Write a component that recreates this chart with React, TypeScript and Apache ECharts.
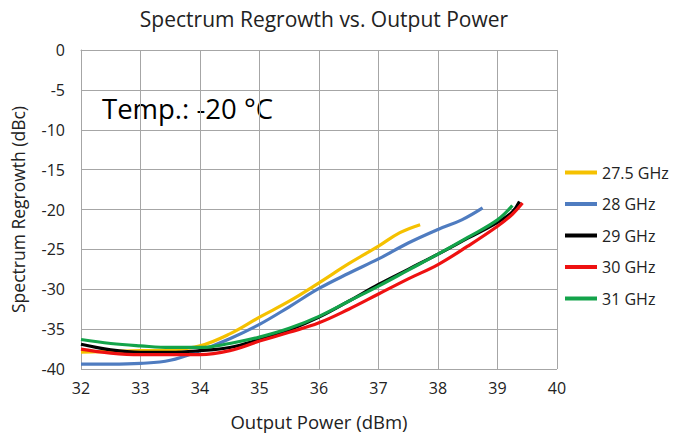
import React, { useEffect, useRef } from "react";
import * as echarts from "echarts";

const seriesNames = ["27.5 GHz", "28 GHz", "29 GHz", "30 GHz", "31 GHz"];
const seriesColors = ["#f5c100", "#4f7cc0", "#000000", "#ee1111", "#13a34a"];

const s275: [number, number][] = [
  [32, -37.9], [32.5, -37.8], [33, -37.7], [33.5, -37.6], [34, -37.1], [34.5, -35.6],
  [35, -33.5], [35.5, -31.5], [36, -29.2], [36.5, -26.8], [37, -24.6], [37.36, -22.9], [37.7, -21.9],
];
const s28: [number, number][] = [
  [32, -39.4], [32.5, -39.4], [33, -39.3], [33.5, -38.9], [34, -37.7], [34.5, -36.2],
  [35, -34.4], [35.5, -32.2], [36, -29.9], [36.5, -28.0], [37, -26.2], [37.5, -24.2],
  [38, -22.5], [38.4, -21.3], [38.75, -19.8],
];
const s29: [number, number][] = [
  [32, -36.9], [32.5, -37.6], [33, -37.9], [33.5, -37.9], [34, -37.7], [34.5, -37.3],
  [35, -36.3], [35.5, -35.1], [36, -33.5], [36.5, -31.5], [37, -29.4], [37.5, -27.5],
  [38, -25.6], [38.5, -23.6], [39, -21.6], [39.25, -20.3], [39.37, -19.0],
];
const s30: [number, number][] = [
  [32, -37.5], [32.5, -38.0], [33, -38.2], [33.5, -38.2], [34, -38.2], [34.5, -37.7],
  [35, -36.5], [35.5, -35.4], [36, -34.2], [36.5, -32.5], [37, -30.6], [37.5, -28.7],
  [38, -26.9], [38.5, -24.6], [39, -22.1], [39.25, -20.6], [39.42, -19.2],
];
const s31: [number, number][] = [
  [32, -36.3], [32.5, -36.8], [33, -37.1], [33.5, -37.3], [34, -37.3], [34.5, -36.8],
  [35, -36.0], [35.5, -34.9], [36, -33.4], [36.5, -31.5], [37, -29.6], [37.5, -27.6],
  [38, -25.6], [38.5, -23.5], [39, -21.3], [39.25, -19.5],
];
const seriesData = [s275, s28, s29, s30, s31];

const xTicks = { min: 32, max: 40, interval: 1 };
const yTicks = { min: -40, max: 0, interval: 5 };

const titleText = "Spectrum Regrowth vs. Output Power";
const xName = "Output Power (dBm)";
const yName = "Spectrum Regrowth (dBc)";
const noteText = "Temp.: -20 °C";

const FONT = "Open Sans";

export default function App() {
  const ref = useRef<HTMLDivElement>(null);
  useEffect(() => {
    if (!ref.current) return;
    const chart = echarts.init(ref.current, undefined, { renderer: "svg" });
    chart.setOption({
      animation: false,
      backgroundColor: "#ffffff",
      textStyle: { fontFamily: FONT },
      title: {
        text: titleText,
        left: 319,
        textAlign: "center",
        top: 3,
        textStyle: { fontFamily: FONT, fontSize: 21, fontWeight: "normal", color: "#222" },
      },
      graphic: [
        {
          type: "text",
          left: 102,
          top: 94,
          style: { text: noteText, fontFamily: FONT, fontSize: 27.5, fill: "#000" },
        },
      ],
      legend: {
        orient: "vertical",
        left: 565,
        top: 162,
        padding: 0,
        itemWidth: 32,
        itemHeight: 4,
        itemGap: 10.5,
        icon: "rect",
        textStyle: { fontFamily: FONT, fontSize: 16, color: "#222", lineHeight: 21 },
        data: seriesNames,
      },
      grid: { left: 81, right: 126, top: 50, bottom: 66, containLabel: false },
      xAxis: {
        type: "value",
        min: xTicks.min,
        max: xTicks.max,
        interval: xTicks.interval,
        name: xName,
        nameLocation: "middle",
        nameGap: 43,
        nameTextStyle: { fontFamily: FONT, fontSize: 18.5, color: "#222" },
        axisLine: { show: true, lineStyle: { color: "#a6a6a6" } },
        axisTick: { show: false },
        axisLabel: { fontFamily: FONT, fontSize: 16, color: "#222", margin: 11 },
        splitLine: { show: true, lineStyle: { color: "#a6a6a6", width: 1 } },
      },
      yAxis: {
        type: "value",
        min: yTicks.min,
        max: yTicks.max,
        interval: yTicks.interval,
        name: yName,
        nameLocation: "middle",
        nameGap: 54,
        nameTextStyle: { fontFamily: FONT, fontSize: 17.5, color: "#222" },
        axisLine: { show: true, lineStyle: { color: "#a6a6a6" } },
        axisTick: { show: false },
        axisLabel: { fontFamily: FONT, fontSize: 16, color: "#222", margin: 16 },
        splitLine: { show: true, lineStyle: { color: "#a6a6a6", width: 1 } },
      },
      series: seriesNames.map((name, i) => ({
        name,
        type: "line",
        data: seriesData[i],
        smooth: 0.4,
        showSymbol: false,
        symbol: "none",
        lineStyle: { color: seriesColors[i], width: 3.2 },
        itemStyle: { color: seriesColors[i] },
      })),
    });
    return () => chart.dispose();
  }, []);
  return <div ref={ref} style={{ width: 683, height: 436, position: "absolute", left: 0, top: 0 }} />;
}
